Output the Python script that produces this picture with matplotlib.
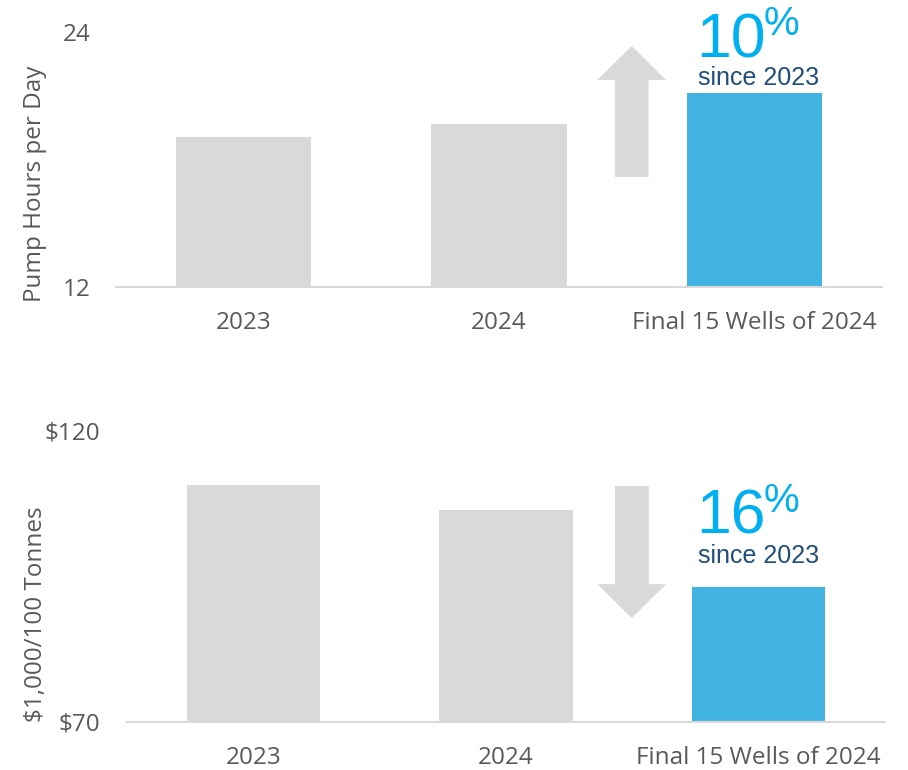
import numpy as np
import matplotlib
matplotlib.use('Agg')
import matplotlib.pyplot as plt
from matplotlib.patches import Polygon

# data
categories = ['2023', '2024', 'Final 15 Wells of 2024']
pump_hours = [19.05, 19.65, 21.15]
cost_per_100t = [110.6, 106.3, 93.1]
pump_ticks = [12, 24]
cost_ticks = [70, 120]
cost_ticklabels = ['$70', '$120']
pump_change = '10'
cost_change = '16'

GRAY = '#d9d9d9'
BLUE = '#41b3e2'
TXT = '#595959'
PCT = '#00b0f0'
NAVY = '#1f4e79'

W, H = 908, 770
plt.rcParams['font.family'] = ['Open Sans', 'DejaVu Sans']
fig = plt.figure(figsize=(W / 100, H / 100), dpi=100)

def fx(x):
    return x / W

def fy(y):
    return 1 - y / H

def style_axis(ax, ticks, ticklabels, ylim, ypad):
    ax.set_xlim(-0.5, 2.5)
    ax.set_ylim(*ylim)
    ax.set_yticks(ticks)
    ax.set_yticklabels(ticklabels)
    ax.set_xticks(range(len(categories)))
    ax.set_xticklabels(categories)
    for s in ['top', 'right', 'left']:
        ax.spines[s].set_visible(False)
    ax.spines['bottom'].set_color(GRAY)
    ax.spines['bottom'].set_linewidth(1.5)
    ax.tick_params(axis='both', length=0, labelsize=17.5, colors=TXT)
    ax.tick_params(axis='y', pad=ypad)
    ax.tick_params(axis='x', pad=17)

colors = [GRAY, GRAY, BLUE]
x = np.arange(len(categories))

# top chart: pump hours
ax1 = fig.add_axes([fx(116), fy(287), fx(882) - fx(116), fy(32) - fy(287)])
ax1.bar(x, pump_hours, width=0.53, color=colors)
style_axis(ax1, pump_ticks, [str(t) for t in pump_ticks], (12, 24), 18.5)

# up arrow (data coords)
up = [(1.52 - 0.066, 17.18), (1.52 + 0.066, 17.18), (1.52 + 0.066, 21.74),
      (1.52 + 0.135, 21.74), (1.52, 23.34), (1.52 - 0.135, 21.74),
      (1.52 - 0.066, 21.74)]
ax1.add_patch(Polygon(up, closed=True, color=GRAY, lw=0, clip_on=False))

# bottom chart: cost
ax2 = fig.add_axes([fx(127), fy(722), fx(885) - fx(127), fy(430) - fy(722)])
ax2.bar(x, cost_per_100t, width=0.527, color=colors)
style_axis(ax2, cost_ticks, cost_ticklabels, (70, 120), 19.5)

dn = [(1.498 - 0.067, 110.4), (1.498 + 0.067, 110.4), (1.498 + 0.067, 93.6),
      (1.498 + 0.136, 93.6), (1.498, 87.8), (1.498 - 0.136, 93.6),
      (1.498 - 0.067, 93.6)]
ax2.add_patch(Polygon(dn, closed=True, color=GRAY, lw=0, clip_on=False))

# y labels
fig.text(fx(35), fy(184), 'Pump Hours per Day', rotation=90, ha='center', va='center',
         fontsize=17.5, color=TXT)
fig.text(fx(36), fy(614), '$1,000/100 Tonnes', rotation=90, ha='center', va='center',
         fontsize=17.5, color=TXT)

# callouts
ann = ['Liberation Sans', 'DejaVu Sans']
for num, base, pct_base, since_base in [(pump_change, 57, 35, 85), (cost_change, 534, 512, 563)]:
    fig.text(fx(766), fy(base), num, ha='right', va='baseline', fontsize=45,
             color=PCT, family=ann)
    fig.text(fx(764), fy(pct_base), '%', ha='left', va='baseline', fontsize=29,
             color=PCT, family=ann)
    fig.text(fx(759), fy(since_base), 'since 2023', ha='center', va='baseline',
             fontsize=18, color=NAVY, family=ann)

fig.savefig('out.png', dpi=100)
